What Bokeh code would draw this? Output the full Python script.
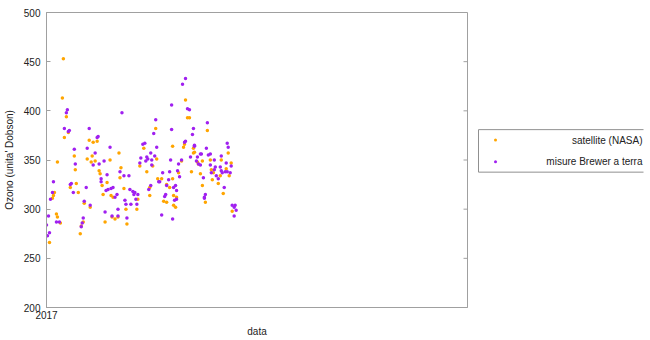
from bokeh.plotting import figure
from bokeh.models import Range1d, FixedTicker
from bokeh.layouts import row
from bokeh.embed import file_html
from bokeh.resources import INLINE
from bokeh.core.properties import value

# ---- data (day index from start of 2017, ozone in Dobson units) ----
sat_day = [17, 16, 20, 22, 18, 43, 47, 51, 110, 140, 142, 144, 162, 139, 73, 28, 46, 41, 45, 49,
           64, 11, 29, 53, 54, 75, 74, 61, 56, 30, 24, 78, 65, 67, 57, 32, 8, 7, 6, 38,
           44, 92, 80, 91, 72, 66, 69, 81, 59, 37, 35, 34, 10, 11, 14, 3, 98, 111, 107, 94,
           101, 116, 121, 124, 104, 104, 118, 121, 112, 127, 127, 138, 148, 148, 149, 183, 157, 152, 153, 176,
           186, 165, 136, 166, 168, 175, 167, 173, 184, 181, 146, 155, 133, 157, 178, 128, 131, 160, 128, 130,
           187]
sat_ozone = [453, 413, 394, 378, 373, 370, 368, 369, 382, 411, 393, 393, 380, 366, 357, 354, 354, 351, 348, 349,
             350, 348, 340, 339, 336, 342, 332, 327, 324, 326, 322, 321, 314, 312, 315, 317, 317, 314, 311, 306,
             302, 310, 300, 300, 292, 292, 290, 285, 287, 287, 283, 275, 295, 292, 286, 266, 362, 351, 344, 344,
             338, 331, 325, 322, 322, 314, 308, 307, 331, 331, 364, 363, 362, 357, 358, 357, 349, 348, 346, 350,
             347, 350, 349, 340, 337, 334, 330, 326, 334, 341, 338, 336, 337, 324, 316, 314, 312, 307, 304, 302,
             298]

brewer_day = [21, 20, 18, 23, 22, 43, 51, 52, 76, 110, 108, 97, 99, 126, 126, 140, 137, 142, 144, 162,
              148, 147, 139, 140, 149, 182, 183, 28, 41, 64, 49, 58, 53, 47, 29, 74, 61, 78, 83, 55,
              55, 7, 25, 24, 40, 60, 62, 65, 67, 84, 87, 88, 92, 89, 71, 69, 27, 6, 4, 38,
              44, 79, 80, 85, 91, 90, 72, 59, 66, 72, 81, 37, 36, 35, 2, 10, 13, 0, 3, 1,
              105, 111, 109, 106, 95, 94, 101, 102, 100, 106, 117, 114, 113, 105, 103, 119, 120, 123, 124, 125,
              121, 116, 149, 161, 155, 156, 165, 163, 145, 152, 151, 155, 153, 169, 176, 181, 186, 165, 136, 133,
              170, 175, 176, 169, 166, 177, 180, 185, 182, 171, 173, 179, 158, 134, 132, 130, 131, 128, 129, 131,
              160, 159, 159, 127, 187, 190, 189, 191, 189]
brewer_ozone = [401, 398, 382, 380, 379, 382, 373, 374, 398, 391, 377, 366, 367, 406, 381, 433, 427, 402, 401, 388,
                382, 376, 368, 369, 365, 367, 363, 361, 362, 363, 357, 349, 346, 345, 346, 338, 335, 334, 334, 331,
                328, 328, 326, 325, 322, 319, 320, 321, 322, 320, 318, 315, 315, 317, 315, 312, 317, 317, 310, 308,
                304, 309, 305, 305, 305, 310, 300, 297, 293, 293, 291, 291, 286, 282, 293, 287, 287, 284, 276, 273,
                357, 363, 354, 350, 352, 347, 353, 351, 349, 345, 337, 328, 328, 324, 320, 313, 315, 330, 338, 350,
                324, 294, 364, 362, 356, 356, 356, 355, 353, 353, 349, 345, 346, 350, 354, 347, 344, 345, 350, 346,
                343, 343, 339, 340, 337, 337, 338, 337, 338, 334, 331, 322, 332, 333, 339, 324, 319, 322, 309, 310,
                315, 312, 311, 290, 304, 304, 302, 299, 293]

y_ticks = [200, 250, 300, 350, 400, 450, 500]
x_tick_days = [0]
x_tick_labels = ["2017"]
series_names = ["satellite (NASA)", "misure Brewer a terra"]
series_colors = ["#FFA500", "#A020F0"]

FONT = "Liberation Sans"
AX = "#a0a0a0"
X_END = 424

p = figure(width=475, height=340, x_range=Range1d(0, X_END), y_range=Range1d(200, 500),
           output_backend="svg", toolbar_location=None,
           min_border_left=43, min_border_right=8, min_border_top=12, min_border_bottom=33,
           x_axis_label="data", y_axis_label="Ozono (unita' Dobson)")
p.grid.visible = False
p.outline_line_color = AX
p.background_fill_color = "white"
p.border_fill_color = "white"

p.yaxis.ticker = FixedTicker(ticks=y_ticks)
p.xaxis.ticker = FixedTicker(ticks=x_tick_days)
p.xaxis.major_label_overrides = {d: l for d, l in zip(x_tick_days, x_tick_labels)}

for ax in p.axis:
    ax.axis_line_color = AX
    ax.major_tick_line_color = AX
    ax.minor_tick_line_color = None
    ax.major_tick_in = 4
    ax.major_tick_out = 0
    ax.major_label_text_font = FONT
    ax.major_label_text_font_size = "10px"
    ax.major_label_text_color = "#222222"
    ax.axis_label_text_font = FONT
    ax.axis_label_text_font_style = "normal"
    ax.axis_label_text_font_size = "10px"
    ax.axis_label_text_color = "#222222"
p.yaxis.major_label_standoff = 6
p.yaxis.axis_label_standoff = 6
p.xaxis.major_label_standoff = 3
p.xaxis.axis_label_standoff = 4

# mirrored inward ticks on the right frame edge
p.segment(x0=[X_END - 4] * len(y_ticks), x1=[X_END] * len(y_ticks), y0=y_ticks, y1=y_ticks,
          line_color=AX, line_width=1)

p.scatter(sat_day, sat_ozone, size=3.5, marker="circle", color=series_colors[0], line_color=None)
p.scatter(brewer_day, brewer_ozone, size=3.5, marker="circle", color=series_colors[1], line_color=None)

# ---- legend panel ----
lg = figure(width=175, height=340, x_range=Range1d(0, 175), y_range=Range1d(340, 0),
            output_backend="svg", toolbar_location=None, min_border=0,
            x_axis_type=None, y_axis_type=None)
lg.grid.visible = False
lg.outline_line_color = None
lg.segment(x0=[3, 3, 3], y0=[135, 135, 184], x1=[168, 3, 168], y1=[135, 184, 184],
           line_color="#909090", line_width=1)
lg.scatter([20, 20], [147, 172], size=3, marker="circle", color=series_colors, line_color=None)
lg.text([167, 167], [147, 172], text=series_names, text_align="right", text_baseline="middle",
        text_font=value(FONT), text_font_size="10px", text_color="#222222")

layout = row(p, lg)
open("out.html", "w").write(file_html(layout, INLINE))
